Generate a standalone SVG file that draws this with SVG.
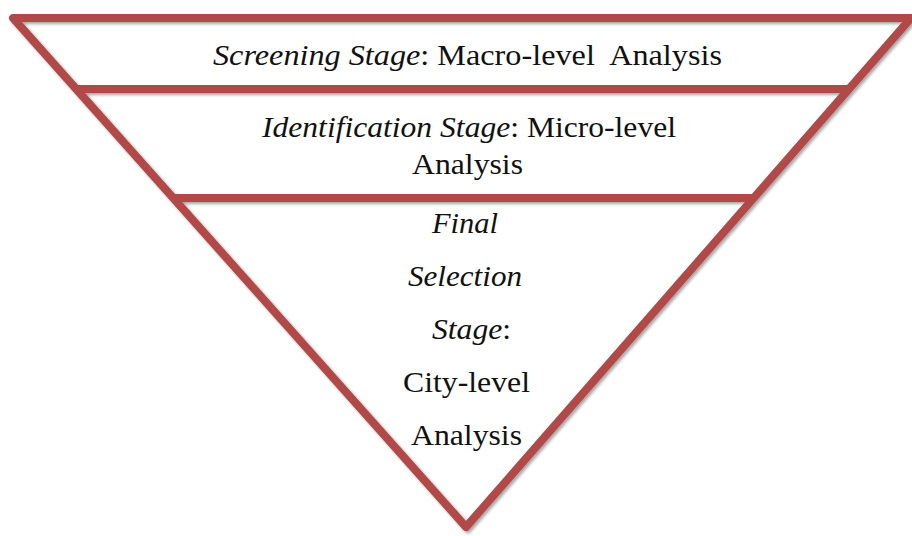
<svg xmlns="http://www.w3.org/2000/svg" width="912" height="536" viewBox="0 0 912 536">
<defs>
<filter id="shadow" x="-5%" y="-5%" width="110%" height="110%">
<feDropShadow dx="2" dy="2" stdDeviation="1.5" flood-color="#000" flood-opacity="0.35"/>
</filter>
<style>
.edge{fill:none;stroke:#b04a47;stroke-width:8;stroke-linejoin:round;stroke-linecap:butt}
.t{font-size:29px;fill:#111}
.i{font-style:italic}
</style>
</defs>
<rect width="912" height="536" fill="#fff"/>
<g id="connectors" filter="url(#shadow)">
<polygon class="edge" points="13,18 911,18 466,527"/>
<line class="edge" x1="75" y1="89" x2="850" y2="89"/>
<line class="edge" x1="172" y1="198" x2="754" y2="198"/>
</g>
<g font-family="'Liberation Serif', 'DejaVu Serif', 'Times New Roman', serif">
<g id="screening">
<text class="t" x="213" y="65" textLength="509" lengthAdjust="spacingAndGlyphs"><tspan class="i">Screening Stage</tspan>: Macro-level&#160; Analysis</text>
</g>
<g id="identification">
<text class="t" x="262" y="137" textLength="414" lengthAdjust="spacingAndGlyphs"><tspan class="i">Identification Stage</tspan>: Micro-level</text>
<text class="t" x="412" y="174" textLength="111" lengthAdjust="spacingAndGlyphs">Analysis</text>
</g>
<g id="final">
<text class="t i" x="432" y="233" textLength="66" lengthAdjust="spacingAndGlyphs">Final</text>
<text class="t i" x="408" y="286" textLength="114" lengthAdjust="spacingAndGlyphs">Selection</text>
<text class="t" x="432" y="339" textLength="79" lengthAdjust="spacingAndGlyphs"><tspan class="i">Stage</tspan>:</text>
<text class="t" x="403" y="392" textLength="127" lengthAdjust="spacingAndGlyphs">City-level</text>
<text class="t" x="411" y="445" textLength="111" lengthAdjust="spacingAndGlyphs">Analysis</text>
</g>
</g>
</svg>
